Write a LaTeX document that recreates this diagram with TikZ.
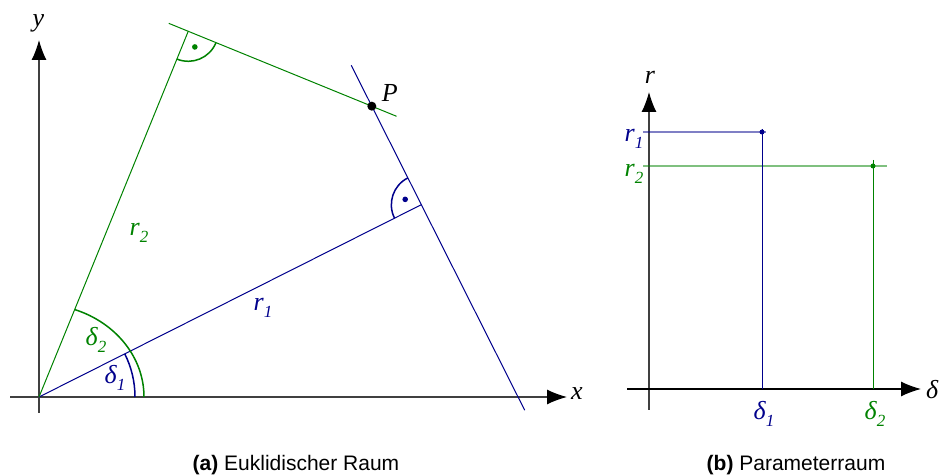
\documentclass[tikz,border=0pt]{standalone}
\usepackage{fontspec}
\setmainfont{Liberation Serif}
\newfontfamily\capfont{Liberation Sans}
\usetikzlibrary{arrows.meta,calc}
\definecolor{hblue}{RGB}{0,0,140}
\definecolor{hgreen}{RGB}{0,130,0}
\newcommand{\lab}[2]{#1\raisebox{-7pt}{\fontsize{17}{17}\selectfont #2}}

\begin{document}
\begin{tikzpicture}[
  x=1pt, y=1pt,
  axis/.style={-{Latex[length=20pt, width=15pt, color=black]}, line width=1.2pt, black!75},
  bline/.style={hblue, line width=1pt},
  gline/.style={hgreen, line width=1pt},
  anglearc/.style={line width=1.5pt},
  proj/.style={line width=2.2pt, opacity=0.5},
  lbl/.style={font=\fontsize{26}{26}\selectfont\itshape, inner sep=0pt},
  caption/.style={font=\capfont\fontsize{21}{21}\selectfont, anchor=base}
]
\useasboundingbox (0,0) rectangle (943,476);

% Euklidischer Raum
\coordinate (O) at (39,79);
\coordinate (xend) at (567,79);
\coordinate (xbeg) at (10,79);
\coordinate (yend) at (39,436);
\coordinate (ybeg) at (39,63);
\draw[axis] (xbeg) -- (xend);
\draw[axis] (ybeg) -- (yend);
\node[lbl] (xlab) at (577,82) {x};
\node[lbl] (ylab) at (38.5,453) {y};

\coordinate (F1) at ($(O)+(26.7:428)$);
\coordinate (F2) at ($(O)+(67.8:395)$);
\coordinate (F1b) at ($(F1)+(116.7:100)$);
\coordinate (F2b) at ($(F2)+(-22.2:100)$);
\coordinate (P) at (intersection of F1--F1b and F2--F2b);

\coordinate (n1a) at ($(F1)+(116.7:156)$);
\coordinate (n1b) at ($(F1)+(-63.3:230)$);
\coordinate (n2a) at ($(F2)+(157.8:21)$);
\coordinate (n2b) at ($(F2)+(-22.2:225)$);

\draw[bline] (O) -- (F1);
\draw[bline] (n1a) -- (n1b);
\draw[gline] (O) -- (F2);
\draw[gline] (n2a) -- (n2b);

% rechte Winkel
\draw[hgreen, anglearc] ($(F2)+(247.8:30)$) arc[start angle=247.8, end angle=337.8, radius=30];
\fill[hgreen] ($(F2)+(292.8:17)$) circle (2.8);
\draw[hblue, anglearc] ($(F1)+(116.7:30)$) arc[start angle=116.7, end angle=206.7, radius=30];
\fill[hblue] ($(F1)+(161.7:17)$) circle (2.8);

% Winkel
\draw[hblue, anglearc] ($(O)+(96,0)$) arc[start angle=0, end angle=26.7, radius=96];
\draw[hgreen, anglearc] ($(O)+(105,0)$) arc[start angle=0, end angle=70.1, x radius=105, y radius=93];

\fill[black] (P) circle (4.5);
\node[lbl] (plab) at ($(P)+(18,13)$) {P};
\node[lbl, hblue] (r1lab) at (263,168) {\lab{r}{1}};
\node[lbl, hgreen] (r2lab) at (139,243) {\lab{r}{2}};
\node[lbl, hblue] (d1lab) at (115,98) {\lab{δ}{1}};
\node[lbl, hgreen] (d2lab) at (96,136) {\lab{δ}{2}};

\node[caption] (capa) at (296,5) {\textbf{(a)} Euklidischer Raum};

% Parameterraum
\coordinate (Q) at (649,87);
\coordinate (dbeg) at (627,87);
\coordinate (dend) at (921,87);
\coordinate (rbeg) at (649,66);
\coordinate (rend) at (649,384);
\draw[axis] (rbeg) -- (rend);
\draw[axis, black] (dbeg) -- (dend);
\node[lbl] (rlab) at (650,399) {r};
\node[lbl, anchor=west] (dlab) at (926,86) {δ};

\coordinate (D1) at (762,344);
\coordinate (D2) at (873,310);
\coordinate (h1a) at (643,344);
\coordinate (h1b) at (766,344);
\coordinate (v1a) at (762,347);
\coordinate (v1b) at (762,87);
\coordinate (h2a) at (643,310);
\coordinate (h2b) at (887,310);
\coordinate (v2a) at (873,316);
\coordinate (v2b) at (873,87);

\draw[hblue, proj] (h1a) -- (h1b);
\draw[hgreen, proj] (h2a) -- (h2b);
\draw[bline] (v1a) -- (v1b);
\draw[gline] (v2a) -- (v2b);
\fill[hblue] (D1) circle (2.5);
\fill[hgreen] (D2) circle (2.5);

\node[lbl, hblue] (pr1) at (634,337.5) {\lab{r}{1}};
\node[lbl, hgreen] (pr2) at (634,302) {\lab{r}{2}};
\node[lbl, hblue] (pd1) at (764,62) {\lab{δ}{1}};
\node[lbl, hgreen] (pd2) at (875,62) {\lab{δ}{2}};

\node[caption] (capb) at (796,5) {\textbf{(b)} Parameterraum};
\end{tikzpicture}
\end{document}
